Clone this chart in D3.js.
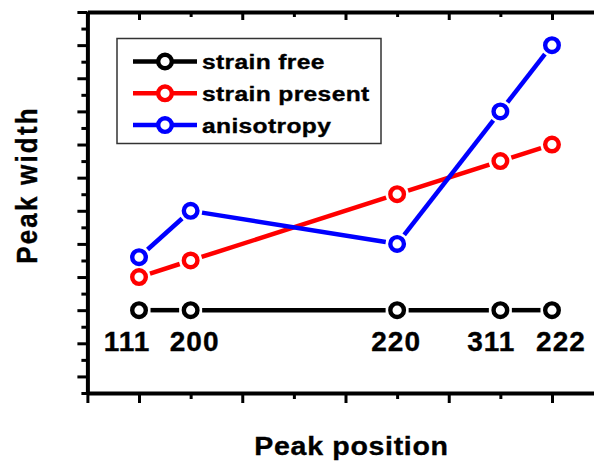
<!DOCTYPE html>
<html>
<head>
<meta charset="utf-8">
<script src="https://cdn.jsdelivr.net/npm/d3@7"></script>
<style>
  html, body { margin: 0; padding: 0; background: #fff; }
  svg { display: block; }
  text { font-family: "Liberation Sans", Arial, sans-serif; font-weight: bold; fill: #000; stroke: #000; stroke-width: 0.35; }
</style>
</head>
<body>
<svg id="chart" width="594" height="461"></svg>
<script>
// Reflections (hkl) and their position along the horizontal axis
const peaks = ["111", "200", "220", "311", "222"];
const peakPos = [1, 2, 6, 8, 9];

// Peak width of each reflection for the three cases
const strainFree = [4, 4, 4, 4, 4];
const strainPresent = [6, 7, 11, 13, 14];
const anisotropy = [7.2, 10, 8, 16, 20];

const seriesNames = ["strain free", "strain present", "anisotropy"];
const seriesColors = ["#000000", "#ff0000", "#0000ff"];

// Tick values
const xMajor = [0, 1, 3, 5, 7, 9];
const xMinor = [2, 4, 6, 8];
const yMajor = d3.range(0, 23, 2);
const yMinor = d3.range(-1, 22, 2);

// Horizontal nudge of each hkl label relative to its point
const labelDx = [-12, 4, -1, -9, 9];

const svg = d3.select("#chart");
const x = d3.scaleLinear().domain([0, 10]).range([87.4, 603.6]);
const y = d3.scaleLinear().domain([-1, 22]).range([393, 12]);

const series = [strainFree, strainPresent, anisotropy].map((vals, i) => ({
  name: seriesNames[i],
  color: seriesColors[i],
  pts: vals.map((v, j) => [x(peakPos[j]), y(v)])
}));

// Axes
function styleAxis(g, w) {
  g.selectAll(".tick line").attr("stroke", "#000").attr("stroke-width", 3);
  g.selectAll(".domain").attr("stroke", "#000").attr("stroke-width", w);
}
svg.append("g").attr("transform", `translate(0,${y(-1)})`)
  .call(d3.axisBottom(x).tickValues(xMinor).tickSize(6).tickFormat("").tickSizeOuter(0))
  .call(g => styleAxis(g, 0)).select(".domain").remove();
svg.append("g").attr("transform", `translate(0,${y(-1)})`)
  .call(d3.axisBottom(x).tickValues(xMajor).tickSize(10).tickFormat("").tickSizeOuter(0))
  .call(g => styleAxis(g, 4));
svg.append("g").attr("transform", `translate(0,${y(22)})`)
  .call(d3.axisTop(x).tickValues(xMinor.concat([0, 10])).tickSize(-5).tickFormat("").tickSizeOuter(0))
  .call(g => styleAxis(g, 0)).select(".domain").remove();
svg.append("g").attr("transform", `translate(0,${y(22)})`)
  .call(d3.axisTop(x).tickValues([1, 3, 5, 7, 9]).tickSize(-8).tickFormat("").tickSizeOuter(0))
  .call(g => styleAxis(g, 4));
svg.append("g").attr("transform", `translate(${x(0)},0)`)
  .call(d3.axisLeft(y).tickValues(yMinor).tickSize(6).tickFormat("").tickSizeOuter(0))
  .call(g => styleAxis(g, 0)).select(".domain").remove();
svg.append("g").attr("transform", `translate(${x(0)},0)`)
  .call(d3.axisLeft(y).tickValues(yMajor).tickSize(10).tickFormat("").tickSizeOuter(0))
  .call(g => styleAxis(g, 4));

// Lines between points, interrupted around each marker
const gap = 11.5;
function gappedSegments(pts) {
  const segs = [];
  for (let i = 0; i < pts.length - 1; i++) {
    const [x1, y1] = pts[i], [x2, y2] = pts[i + 1];
    const dx = x2 - x1, dy = y2 - y1, len = Math.hypot(dx, dy);
    if (len <= 2 * gap) continue;
    const ux = dx / len, uy = dy / len;
    segs.push([x1 + ux * gap, y1 + uy * gap, x2 - ux * gap, y2 - uy * gap]);
  }
  return segs;
}

series.forEach(s => {
  const g = svg.append("g");
  g.selectAll("line").data(gappedSegments(s.pts)).join("line")
    .attr("x1", d => d[0]).attr("y1", d => d[1])
    .attr("x2", d => d[2]).attr("y2", d => d[3])
    .attr("stroke", s.color).attr("stroke-width", 4.5).attr("stroke-linecap", "butt");
  g.selectAll("circle").data(s.pts).join("circle")
    .attr("cx", d => d[0]).attr("cy", d => d[1]).attr("r", 6.8)
    .attr("fill", "#fff").attr("stroke", s.color).attr("stroke-width", 4.4);
});

// hkl labels under the strain-free points
svg.append("g").selectAll("text").data(peaks).join("text")
  .attr("x", (d, i) => x(peakPos[i]) + labelDx[i])
  .attr("y", (d, i) => y(strainFree[i]) + 41)
  .attr("text-anchor", "middle")
  .attr("font-size", 28)
  .attr("letter-spacing", 1)
  .text(d => d);

// Legend
const legend = svg.append("g");
legend.append("rect").attr("x", 117).attr("y", 38.5).attr("width", 264).attr("height", 105)
  .attr("fill", "#fff").attr("stroke", "#333").attr("stroke-width", 1.5);
series.forEach((s, i) => {
  const cy = 61.5 + i * 31.8;
  legend.append("line").attr("x1", 133).attr("x2", 197).attr("y1", cy).attr("y2", cy)
    .attr("stroke", s.color).attr("stroke-width", 4.5);
  legend.append("circle").attr("cx", 165).attr("cy", cy).attr("r", 6.8)
    .attr("fill", "#fff").attr("stroke", s.color).attr("stroke-width", 4.4);
  legend.append("text").attr("transform", `translate(202,${cy + 7.5}) scale(1.2,1)`)
    .attr("font-size", 20.5).attr("letter-spacing", 0.3).text(s.name);
});

// Axis titles
svg.append("text").attr("transform", "translate(351.5,455) scale(1.12,1)")
  .attr("text-anchor", "middle").attr("font-size", 25.5).attr("letter-spacing", 0.6)
  .text("Peak position");
svg.append("text").attr("transform", "translate(37,185) rotate(-90) scale(1,1.15)")
  .attr("text-anchor", "middle").attr("font-size", 26).attr("letter-spacing", 2.2)
  .text("Peak width");
</script>
</body>
</html>
